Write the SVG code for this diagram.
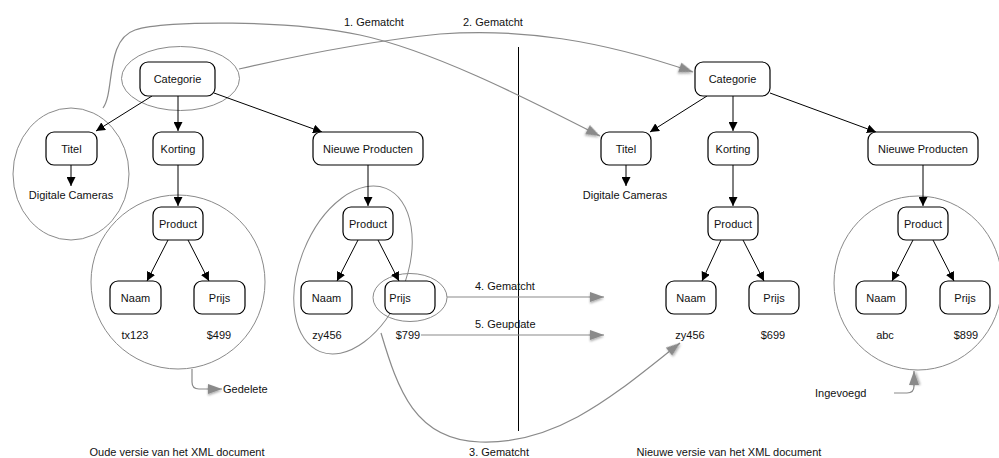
<svg xmlns="http://www.w3.org/2000/svg" width="999" height="458" viewBox="0 0 999 458">
  <defs>
    <style>
      text { font-family: "Liberation Sans", Arial, sans-serif; font-size: 11px; fill: #111; }
      .c { text-anchor: middle; }
      .box { fill: #fff; stroke: #000; stroke-width: 1.2; }
      .edge { stroke: #000; stroke-width: 1; fill: none; marker-end: url(#blk); }
      .ring { fill: none; stroke: #8a8a8a; stroke-width: 1; }
      .link { fill: none; stroke: #8a8a8a; stroke-width: 1.2; marker-end: url(#gry); }
    </style>
    <filter id="soft" x="-50%" y="-50%" width="200%" height="200%">
      <feDropShadow dx="0" dy="1.5" stdDeviation="1.2" flood-color="#000" flood-opacity="0.35"/>
    </filter>
    <marker id="blk" viewBox="0 0 10 10" refX="10" refY="5" markerWidth="9" markerHeight="9" markerUnits="userSpaceOnUse" orient="auto">
      <path d="M0,0 L10,5 L0,10 z" fill="#000"/>
    </marker>
    <marker id="gry" viewBox="-4 -4 22 18" refX="14" refY="5" markerWidth="22" markerHeight="18" markerUnits="userSpaceOnUse" orient="auto">
      <path d="M0,0 L14,5 L0,10 z" fill="#8a8a8a" filter="url(#soft)"/>
    </marker>
  </defs>

  <!-- selection rings -->
  <g id="rings">
    <ellipse class="ring" cx="180.5" cy="78.5" rx="59" ry="32"/>
    <ellipse class="ring" cx="71" cy="174" rx="58" ry="66"/>
    <ellipse class="ring" cx="178" cy="282" rx="87" ry="87"/>
    <ellipse class="ring" cx="353" cy="270" rx="53" ry="88" transform="rotate(22 353 270)"/>
    <ellipse class="ring" cx="410" cy="297.5" rx="37" ry="24"/>
    <ellipse class="ring" cx="918" cy="283" rx="84" ry="87"/>
  </g>

  <!-- divider -->
  <line x1="518.5" y1="47" x2="518.5" y2="431" stroke="#000" stroke-width="1"/>

  <!-- tree connectors -->
  <g id="connectors">
    <path class="edge" d="M152,96 L96,131"/>
    <path class="edge" d="M178,96 L178,131"/>
    <path class="edge" d="M214,93 L322,132"/>
    <path class="edge" d="M71,165 L71,186"/>
    <path class="edge" d="M178,165 L178,206"/>
    <path class="edge" d="M168,240 L147,281"/>
    <path class="edge" d="M188,240 L209,281"/>
    <path class="edge" d="M368,165 L368,206"/>
    <path class="edge" d="M358,240 L337,281"/>
    <path class="edge" d="M378,240 L399,281"/>

    <path class="edge" d="M707,96 L650,132"/>
    <path class="edge" d="M733,96 L733,131"/>
    <path class="edge" d="M770,93 L876,132"/>
    <path class="edge" d="M626,165 L626,186"/>
    <path class="edge" d="M733,165 L733,206"/>
    <path class="edge" d="M721,240 L702,281"/>
    <path class="edge" d="M743,240 L764,281"/>
    <path class="edge" d="M923,165 L923,206"/>
    <path class="edge" d="M913,240 L892,281"/>
    <path class="edge" d="M933,240 L954,281"/>
  </g>

  <!-- mapping links between versions -->
  <g id="links">
    <path class="link" d="M103,108 C115,92 105,40 135,30 C165,20 290,20 360,35 C430,50 520,95 600,136"/>
    <path class="link" d="M239,69 C300,55 380,40 440,34 C520,28 600,40 693,72"/>
    <path class="link" d="M381,333 C398,390 415,440 480,442 C560,445 620,390 680,343"/>
    <path class="link" d="M447,297 L604,297"/>
    <path class="link" d="M421,335 L604,335"/>
    <path class="link" d="M192,369 L192,382 Q192,389 199,389 L222,389"/>
    <path class="link" d="M894,393 L907,393 Q914,393 914,386 L914,371"/>
  </g>

  <!-- old version nodes -->
  <g id="old-categorie"><rect class="box" x="140" y="62" width="75" height="34" rx="8"/><text class="c" x="177.5" y="83">Categorie</text></g>
  <g id="old-titel"><rect class="box" x="46" y="132" width="51" height="33" rx="8"/><text class="c" x="71.5" y="152.5">Titel</text></g>
  <g id="old-korting"><rect class="box" x="153" y="132" width="50" height="33" rx="8"/><text class="c" x="178" y="152.5">Korting</text></g>
  <g id="old-nieuwe"><rect class="box" x="313" y="132" width="110" height="33" rx="8"/><text class="c" x="368" y="152.5">Nieuwe Producten</text></g>
  <g id="old-digitale"><text class="c" x="71" y="199">Digitale Cameras</text></g>
  <g id="old-product1"><rect class="box" x="153" y="207" width="50" height="33" rx="8"/><text class="c" x="178" y="227.5">Product</text></g>
  <g id="old-naam1"><rect class="box" x="110" y="281" width="51" height="33" rx="8"/><text class="c" x="135.5" y="301.5">Naam</text></g>
  <g id="old-prijs1"><rect class="box" x="194" y="281" width="51" height="33" rx="8"/><text class="c" x="219.5" y="301.5">Prijs</text></g>
  <g id="old-tx123"><text class="c" x="135" y="339">tx123</text></g>
  <g id="old-499"><text class="c" x="219" y="339">$499</text></g>
  <g id="old-product2"><rect class="box" x="343" y="207" width="50" height="33" rx="8"/><text class="c" x="368" y="227.5">Product</text></g>
  <g id="old-naam2"><rect class="box" x="301" y="281" width="51" height="33" rx="8"/><text class="c" x="326.5" y="301.5">Naam</text></g>
  <g id="old-prijs2"><rect class="box" x="385" y="281" width="50" height="33" rx="8"/><text class="c" x="400" y="301.5">Prijs</text></g>
  <g id="old-zy456"><text class="c" x="327" y="339">zy456</text></g>
  <g id="old-799"><text class="c" x="408" y="339">$799</text></g>

  <!-- new version nodes -->
  <g id="new-categorie"><rect class="box" x="695" y="62" width="75" height="34" rx="8"/><text class="c" x="732.5" y="83">Categorie</text></g>
  <g id="new-titel"><rect class="box" x="601" y="132" width="50" height="33" rx="8"/><text class="c" x="626" y="152.5">Titel</text></g>
  <g id="new-korting"><rect class="box" x="708" y="132" width="50" height="33" rx="8"/><text class="c" x="733" y="152.5">Korting</text></g>
  <g id="new-nieuwe"><rect class="box" x="868" y="132" width="110" height="33" rx="8"/><text class="c" x="923" y="152.5">Nieuwe Producten</text></g>
  <g id="new-digitale"><text class="c" x="625" y="199">Digitale Cameras</text></g>
  <g id="new-product1"><rect class="box" x="708" y="207" width="50" height="33" rx="8"/><text class="c" x="733" y="227.5">Product</text></g>
  <g id="new-naam1"><rect class="box" x="666" y="281" width="50" height="33" rx="8"/><text class="c" x="691" y="301.5">Naam</text></g>
  <g id="new-prijs1"><rect class="box" x="749" y="281" width="50" height="33" rx="8"/><text class="c" x="774" y="301.5">Prijs</text></g>
  <g id="new-zy456"><text class="c" x="690" y="339">zy456</text></g>
  <g id="new-699"><text class="c" x="773" y="339">$699</text></g>
  <g id="new-product2"><rect class="box" x="898" y="207" width="50" height="33" rx="8"/><text class="c" x="923" y="227.5">Product</text></g>
  <g id="new-naam2"><rect class="box" x="856" y="281" width="50" height="33" rx="8"/><text class="c" x="881" y="301.5">Naam</text></g>
  <g id="new-prijs2"><rect class="box" x="940" y="281" width="50" height="33" rx="8"/><text class="c" x="965" y="301.5">Prijs</text></g>
  <g id="new-abc"><text class="c" x="885" y="339">abc</text></g>
  <g id="new-899"><text class="c" x="966" y="339">$899</text></g>

  <!-- labels -->
  <g id="labels">
    <text x="344" y="26">1. Gematcht</text>
    <text x="463" y="26">2. Gematcht</text>
    <text x="475" y="290">4. Gematcht</text>
    <text x="475" y="328">5. Geupdate</text>
    <text class="c" x="499" y="456">3. Gematcht</text>
    <text x="223" y="393">Gedelete</text>
    <text x="815" y="397">Ingevoegd</text>
    <text class="c" x="177" y="456">Oude versie van het XML document</text>
    <text class="c" x="729" y="456">Nieuwe versie van het XML document</text>
  </g>
</svg>
